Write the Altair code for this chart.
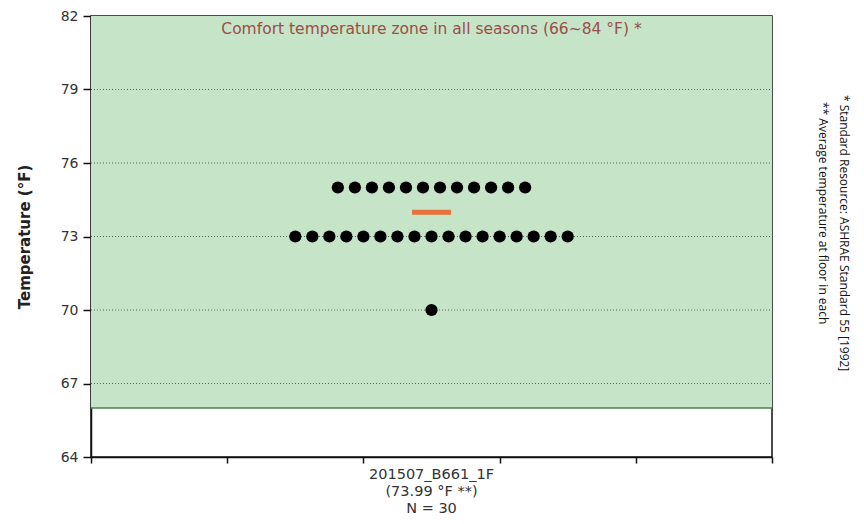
import altair as alt
import pandas as pd

# ---- data ----
temp_levels = [75, 73, 70]          # °F readings present
temp_counts = [12, 17, 1]           # number of readings at each level (N = 30)
mean_temp = 73.99                   # average temperature
category_label = "201507_B661_1F"
n_total = 30
y_ticks = [64, 67, 70, 73, 76, 79, 82]
grid_values = [67, 70, 73, 76, 79]
comfort_low, comfort_high = 66, 84
x_ticks = [0, 1, 2, 3, 4, 5]
cat_pos = 2.5

# ---- style ----
W, H = 681, 441
DOT_STEP = 0.125      # horizontal spacing between stacked dots (x units)
FONT = "DejaVu Sans"

rows = []
for t, c in zip(temp_levels, temp_counts):
    for i in range(c):
        rows.append({"temp": t, "x": cat_pos + (i - (c - 1) / 2) * DOT_STEP})
dots_df = pd.DataFrame(rows)

xs = alt.Scale(domain=[0, 5], nice=False, zero=False)
ys = alt.Scale(domain=[64, 82], nice=False, zero=False)

zone = alt.Chart(pd.DataFrame({"x": [0], "x2": [5], "y": [comfort_low], "y2": [comfort_high]})).mark_rect(
    color="#c6e4c8", clip=True
).encode(
    x=alt.X("x:Q", scale=xs, axis=alt.Axis(values=x_ticks, labels=False, grid=False, tickSize=6,
                                          tickColor="#111", domainColor="#111", domainWidth=1.5,
                                          tickWidth=1.5, title=None)),
    x2="x2:Q",
    y=alt.Y("y:Q", scale=ys, axis=alt.Axis(values=y_ticks, grid=False, tickSize=8, tickColor="#111",
                                          tickWidth=1.5, domainColor="#111", domainWidth=1.5,
                                          labelFont=FONT, labelFontSize=14, labelColor="#333",
                                          labelPadding=5, title="Temperature (°F)",
                                          titleFont=FONT, titleFontSize=15, titleFontWeight="bold",
                                          titleColor="#222", titlePadding=28)),
    y2="y2:Q",
)

zone_edge = alt.Chart(pd.DataFrame({"y": [comfort_low]})).mark_rule(
    color="#4f7f4f", strokeWidth=1.5
).encode(y=alt.Y("y:Q", scale=ys), x=alt.value(0), x2=alt.value(W))

grid = alt.Chart(pd.DataFrame({"y": grid_values})).mark_rule(
    color="#5a6b5a", strokeWidth=1, strokeDash=[1, 2]
).encode(y=alt.Y("y:Q", scale=ys), x=alt.value(0), x2=alt.value(W))

dots = alt.Chart(dots_df).mark_circle(color="#000000", opacity=1, size=150).encode(
    x=alt.X("x:Q", scale=xs), y=alt.Y("temp:Q", scale=ys)
)

mean_bar = alt.Chart(pd.DataFrame({"m": [mean_temp], "x": [cat_pos - 0.143], "x2": [cat_pos + 0.143]})).mark_rule(
    color="#e8703a", strokeWidth=5
).encode(x=alt.X("x:Q", scale=xs), x2="x2:Q", y=alt.Y("m:Q", scale=ys))

zone_title = alt.Chart(pd.DataFrame({"x": [cat_pos], "t": [f"Comfort temperature zone in all seasons ({comfort_low}~{comfort_high} °F) *"]})).mark_text(
    font=FONT, fontSize=15.5, color="#9c4e48", baseline="middle"
).encode(x=alt.X("x:Q", scale=xs), y=alt.value(13), text="t:N")

bottom_label = alt.Chart(pd.DataFrame({"x": [cat_pos], "t": [f"{category_label}\n({mean_temp} °F **)\nN = {n_total}"]})).mark_text(
    font=FONT, fontSize=14.5, color="#333", baseline="top", lineBreak="\n", lineHeight=17
).encode(x=alt.X("x:Q", scale=xs), y=alt.value(H + 11), text="t:N")

notes = alt.Chart(pd.DataFrame({
    "t": ["* Standard Resource: ASHRAE Standard 55 [1992]", "** Average temperature at floor in each"],
    "px": [W + 72, W + 51],
    "py": [79, 86],
})).mark_text(
    font="Open Sans", fontSize=12, color="#111", angle=90, align="left", baseline="middle"
).encode(x=alt.X("px:Q", scale=None), y=alt.Y("py:Q", scale=None), text="t:N")

chart = alt.layer(zone, zone_edge, grid, dots, mean_bar, zone_title, bottom_label, notes).properties(
    width=W, height=H,
    autosize=alt.AutoSizeParams(type="none"),
    padding={"left": 83, "top": 8, "right": 84, "bottom": 59},
).configure_view(stroke="#111", strokeWidth=1.5)

chart.save("out.html", embed_options={"renderer": "svg", "actions": False})
